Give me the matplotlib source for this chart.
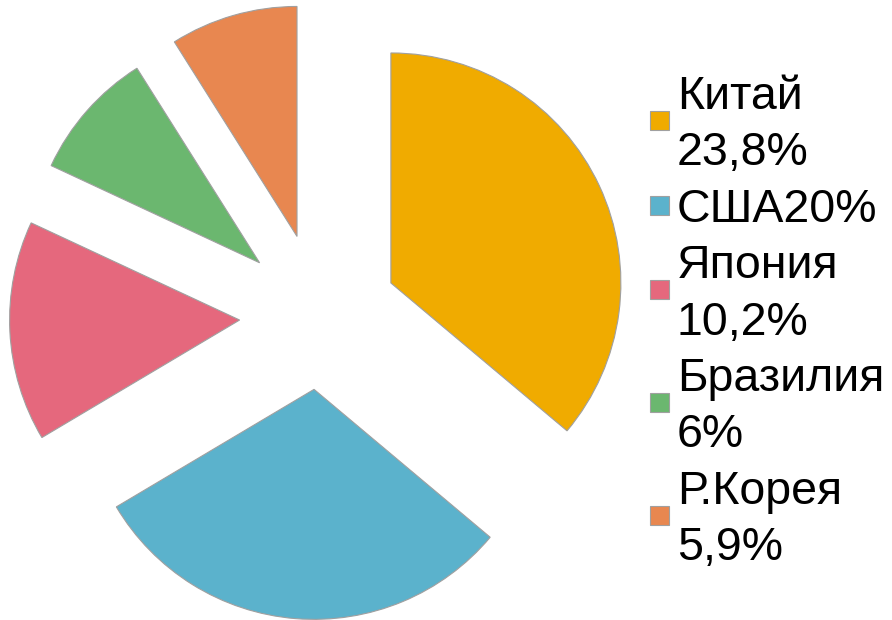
import matplotlib.pyplot as plt
from matplotlib.patches import Rectangle

# Данные
strany = ['Китай', 'США', 'Япония', 'Бразилия', 'Р.Корея']
doli = [23.8, 20, 10.2, 6, 5.9]
podpisi = ['Китай\n23,8%', 'США20%', 'Япония\n10,2%', 'Бразилия\n6%', 'Р.Корея\n5,9%']
cveta = ['#F0AB00', '#5BB2CC', '#E5687D', '#6BB76F', '#E88750']
vynos = [0.34, 0.32, 0.35, 0.35, 0.36]

plt.rcParams['font.family'] = ['Liberation Sans', 'DejaVu Sans']

W, H = 892, 620
fig = plt.figure(figsize=(W / 100, H / 100), dpi=100)
ax = fig.add_axes([0, 0, 1, 1])

# центр круга и радиус в пикселях
cx, cy, r = 320, 316, 230
wedges, _ = ax.pie(doli, colors=cveta, explode=vynos, startangle=90,
                   counterclock=False,
                   wedgeprops=dict(edgecolor='#A0A0A0', linewidth=0.8))
ax.set_xlim(-cx / r, (W - cx) / r)
ax.set_ylim(-(H - cy) / r, cy / r)
ax.set_aspect('auto')
ax.axis('off')

# Легенда вручную
step = 56.4
y = 92
for w, lab in zip(wedges, podpisi):
    n = lab.count('\n') + 1
    yc = y + step * (n - 1) / 2
    fig.patches.append(Rectangle(((W - 242) / W, (H - yc - 10) / H), 19 / W, 19 / H,
                                 transform=fig.transFigure, facecolor=w.get_facecolor(),
                                 edgecolor='#A0A0A0', linewidth=0.8))
    for i, line in enumerate(lab.split('\n')):
        fig.text(677 / W, (H - (y + i * step)) / H, line, fontsize=33.5,
                 va='center_baseline', ha='left', color='black')
    y += step * n

fig.savefig('out.png', dpi=100)
